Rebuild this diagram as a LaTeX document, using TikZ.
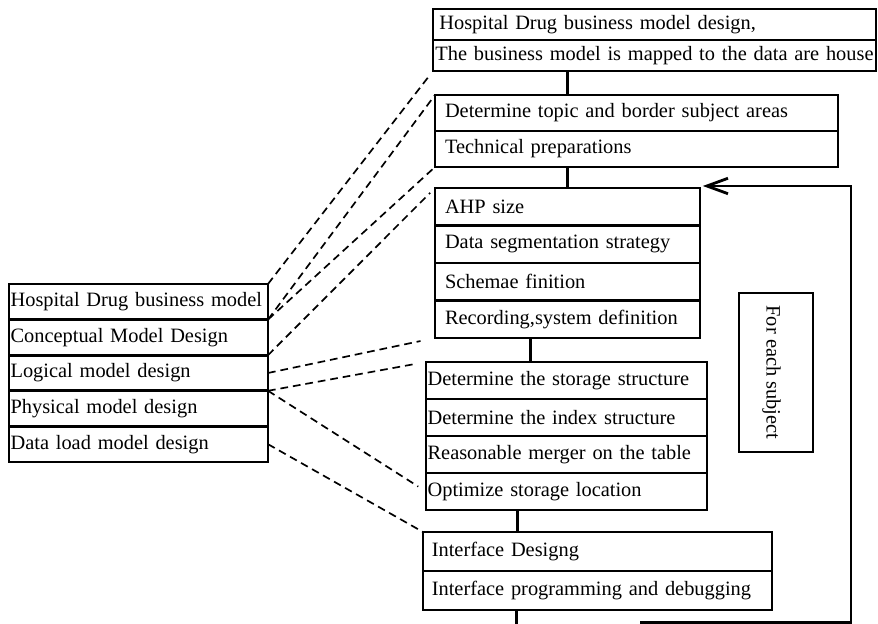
\documentclass[tikz,border=0pt]{standalone}
\usepackage{fontspec}
\setmainfont{Liberation Serif}
\usetikzlibrary{arrows.meta,positioning,calc}

\begin{document}
\begin{tikzpicture}[>=Stealth,every node/.style={font=\fontsize{14.5}{17}\selectfont},
  box/.style={draw,line width=2pt,outer sep=0pt,inner ysep=0pt,align=left,anchor=north west},
  link/.style={line width=2pt},
  hint/.style={line width=1.2pt,dash pattern=on 5.5pt off 3.5pt}]
\useasboundingbox (0,0) rectangle (21.95,15.6);
% design steps on the left
\begin{scope}[every node/.append style={box,text width=6.395cm,inner xsep=.04cm,minimum height=.89cm}]
\node (L1) at (0.225,8.5) {\mbox{Hospital Drug business model}};
\node[below=0pt of L1] (L2) {Conceptual Model Design};
\node[below=0pt of L2] (L3) {Logical model design};
\node[below=0pt of L3] (L4) {Physical model design};
\node[below=0pt of L4] (L5) {Data load model design};
\end{scope}
% flow on the right
\begin{scope}[every node/.append style={box,text width=10.955cm,inner xsep=.06cm,minimum height=.775cm}]
\node (A1) at (10.825,15.375) {\hspace{.1cm}Hospital Drug business model design,};
\node[below=0pt of A1] (A2) {\mbox{The business model is mapped to the data are house}};
\end{scope}
\begin{scope}[every node/.append style={box,text width=9.575cm,inner xsep=.25cm,minimum height=.9cm}]
\node (B1) at (10.875,13.225) {Determine topic and border subject areas};
\node[below=0pt of B1] (B2) {Technical preparations};
\end{scope}
\begin{scope}[every node/.append style={box,text width=6.125cm,inner xsep=.25cm,minimum height=.9375cm}]
\node (C1) at (10.875,10.9) {AHP size};
\node[below=0pt of C1] (C2) {Data segmentation strategy};
\node[below=0pt of C2] (C3) {Schemae finition};
\node[below=0pt of C3] (C4) {Recording,system definition};
\end{scope}
\begin{scope}[every node/.append style={box,text width=6.945cm,inner xsep=.04cm,minimum height=.925cm}]
\node (D1) at (10.65,6.55) {Determine the storage structure};
\node[below=0pt of D1] (D2) {Determine the index structure};
\node[below=0pt of D2] (D3) {Reasonable merger on the table};
\node[below=0pt of D3] (D4) {Optimize storage location};
\end{scope}
\begin{scope}[every node/.append style={box,text width=8.285cm,inner xsep=.22cm,minimum height=.975cm}]
\node (E1) at (10.575,2.3) {Interface Designg};
\node[below=0pt of E1] (E2) {Interface programming and debugging};
\end{scope}
\node[draw,line width=1.2pt,rotate=-90,minimum width=3.975cm,minimum height=1.85cm,
  text height=1.55em,text depth=.22em,inner sep=0pt] (each) at (19.4,6.29) {For each subject};

\draw[link] (A2.south -| C1.north) -- (B1.north -| C1.north);
\draw[link] (B2.south -| C1.north) -- (C1.north);
\draw[link] ($(C4.south west)!.36!(C4.south east)$) coordinate (cd) -- (cd |- D1.north);
\draw[link] ($(D4.south west)!.325!(D4.south east)$) coordinate (de) -- (de |- E1.north);
\draw[link] ($(E2.south west)!.267!(E2.south east)$) coordinate (ee) -- (ee |- 0,0);

% repeat loop
\coordinate (back) at (16,0.03);
\draw[link,-{Straight Barb[length=15pt,width=11pt]}] (back) -- (21.275,0.03)
  -- (21.275,10.95) coordinate (turn) -- ([xshift=2pt]turn -| C1.east);

\draw[hint,shorten >=.16cm] (L1.north east) -- (A2.south west);
\draw[hint] (L1.south east) -- (B1.north west);
\draw[hint] (L1.south east) -- (B2.south west);
\draw[hint,shorten >=.17cm] (L3.north east) -- (C1.north west);
\draw[hint,shorten >=.37cm] (L3.east) -- (C4.south west);
\draw[hint,shorten >=.23cm] (L3.south east) -- (D1.north west);
\draw[hint,shorten >=.23cm] (L3.south east) -- (D4.west);
\draw[hint] (L5.east) -- (E1.north west);
\end{tikzpicture}
\end{document}
